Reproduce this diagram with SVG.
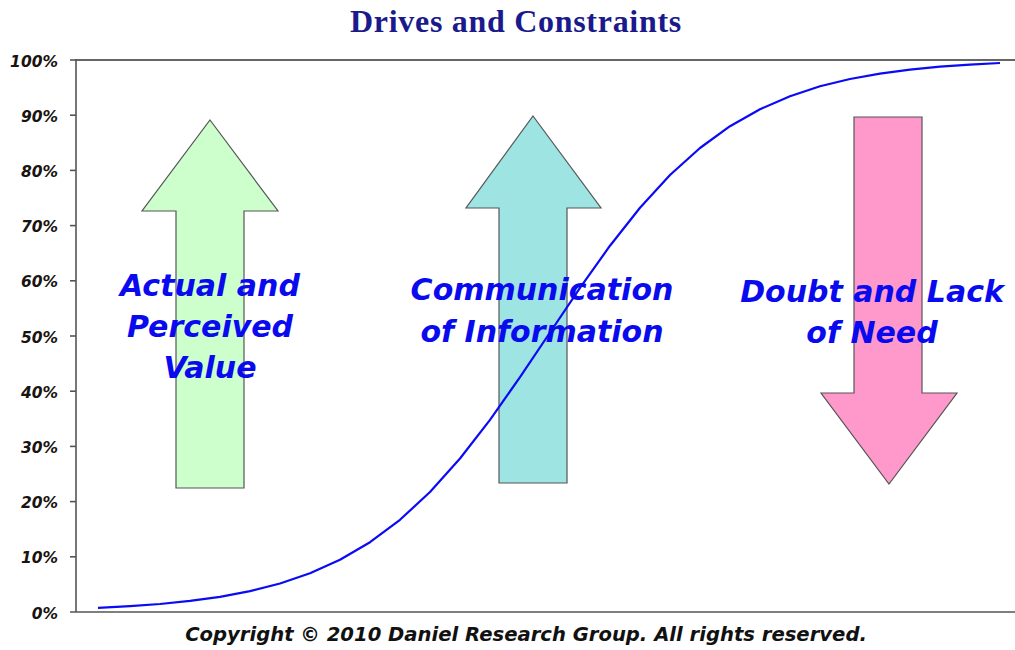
<svg xmlns="http://www.w3.org/2000/svg" width="1015" height="650" viewBox="0 0 1015 650">
<style>
.tick{font-family:"DejaVu Sans",Verdana,sans-serif;font-weight:bold;font-style:italic;font-size:15.5px;fill:#1a1410;text-anchor:end}
.lbl{font-family:"DejaVu Sans",Verdana,sans-serif;font-weight:bold;font-style:italic;font-size:30px;fill:#0a0aee;text-anchor:middle}
.axis{stroke:#555;stroke-width:1.6;fill:none}
.arrow{stroke:#555;stroke-width:1.2}
</style>
<rect width="1015" height="650" fill="#fff"/>
<text x="516" y="32" font-family="Liberation Serif,serif" font-weight="bold" font-size="32" fill="#1a1a8c" text-anchor="middle" letter-spacing="0.7">Drives and Constraints</text>
<g id="axes">
<line class="axis" x1="76" y1="60" x2="1015" y2="60" style="stroke:#333"/>
<line class="axis" x1="76" y1="59" x2="76" y2="612"/>
<line class="axis" x1="70" y1="612" x2="1015" y2="612"/>
<g class="axis">
<line x1="70" y1="60" x2="76" y2="60"/><line x1="70" y1="115.2" x2="76" y2="115.2"/><line x1="70" y1="170.4" x2="76" y2="170.4"/><line x1="70" y1="225.6" x2="76" y2="225.6"/><line x1="70" y1="280.8" x2="76" y2="280.8"/><line x1="70" y1="336" x2="76" y2="336"/><line x1="70" y1="391.2" x2="76" y2="391.2"/><line x1="70" y1="446.4" x2="76" y2="446.4"/><line x1="70" y1="501.6" x2="76" y2="501.6"/><line x1="70" y1="556.8" x2="76" y2="556.8"/>
</g>
<text class="tick" x="58" y="66.5">100%</text>
<text class="tick" x="58" y="121.7">90%</text>
<text class="tick" x="58" y="176.9">80%</text>
<text class="tick" x="58" y="232.1">70%</text>
<text class="tick" x="58" y="287.3">60%</text>
<text class="tick" x="58" y="342.5">50%</text>
<text class="tick" x="58" y="397.7">40%</text>
<text class="tick" x="58" y="452.9">30%</text>
<text class="tick" x="58" y="508.1">20%</text>
<text class="tick" x="58" y="563.3">10%</text>
<text class="tick" x="58" y="618.5">0%</text>
</g>
<g id="node-value">
<polygon class="arrow" fill="#ccffcc" points="210,120 278,211 244,211 244,488 176,488 176,211 142,211"/>
</g>
<g id="node-communication">
<polygon class="arrow" fill="#9de4e3" points="533,116 601,208 567,208 567,483 499,483 499,208 466,208"/>
</g>
<g id="node-doubt">
<polygon class="arrow" fill="#ff99cc" points="854,117 922,117 922,393 957,393 889,484 821,393 854,393"/>
</g>
<g id="connectors">
<polyline fill="none" stroke="#0a0af5" stroke-width="2.2" stroke-linejoin="round" points="98,607.9 130,606.2 160,604.0 190,600.9 220,596.8 250,591.1 280,583.5 310,573.3 340,559.8 370,542.2 400,519.8 430,492.0 460,458.5 490,419.8 520,377.2 550,332.5 580,287.9 610,245.7 640,207.7 670,175.0 700,148.0 730,126.2 760,109.2 790,96.2 820,86.3 850,79.0 880,73.6 910,69.6 940,66.7 970,64.6 1000,63.0"/>
</g>
<g id="labels">
<text class="lbl" x="210" y="296">Actual and</text>
<text class="lbl" x="210" y="337">Perceived</text>
<text class="lbl" x="210" y="378">Value</text>
<text class="lbl" x="542" y="300">Communication</text>
<text class="lbl" x="542" y="342">of Information</text>
<text class="lbl" x="872" y="302">Doubt and Lack</text>
<text class="lbl" x="872" y="343">of Need</text>
</g>
<text x="526" y="641" font-family="DejaVu Sans,Verdana,sans-serif" font-weight="bold" font-style="italic" font-size="19.6" fill="#111" text-anchor="middle">Copyright © 2010 Daniel Research Group. All rights reserved.</text>
</svg>
